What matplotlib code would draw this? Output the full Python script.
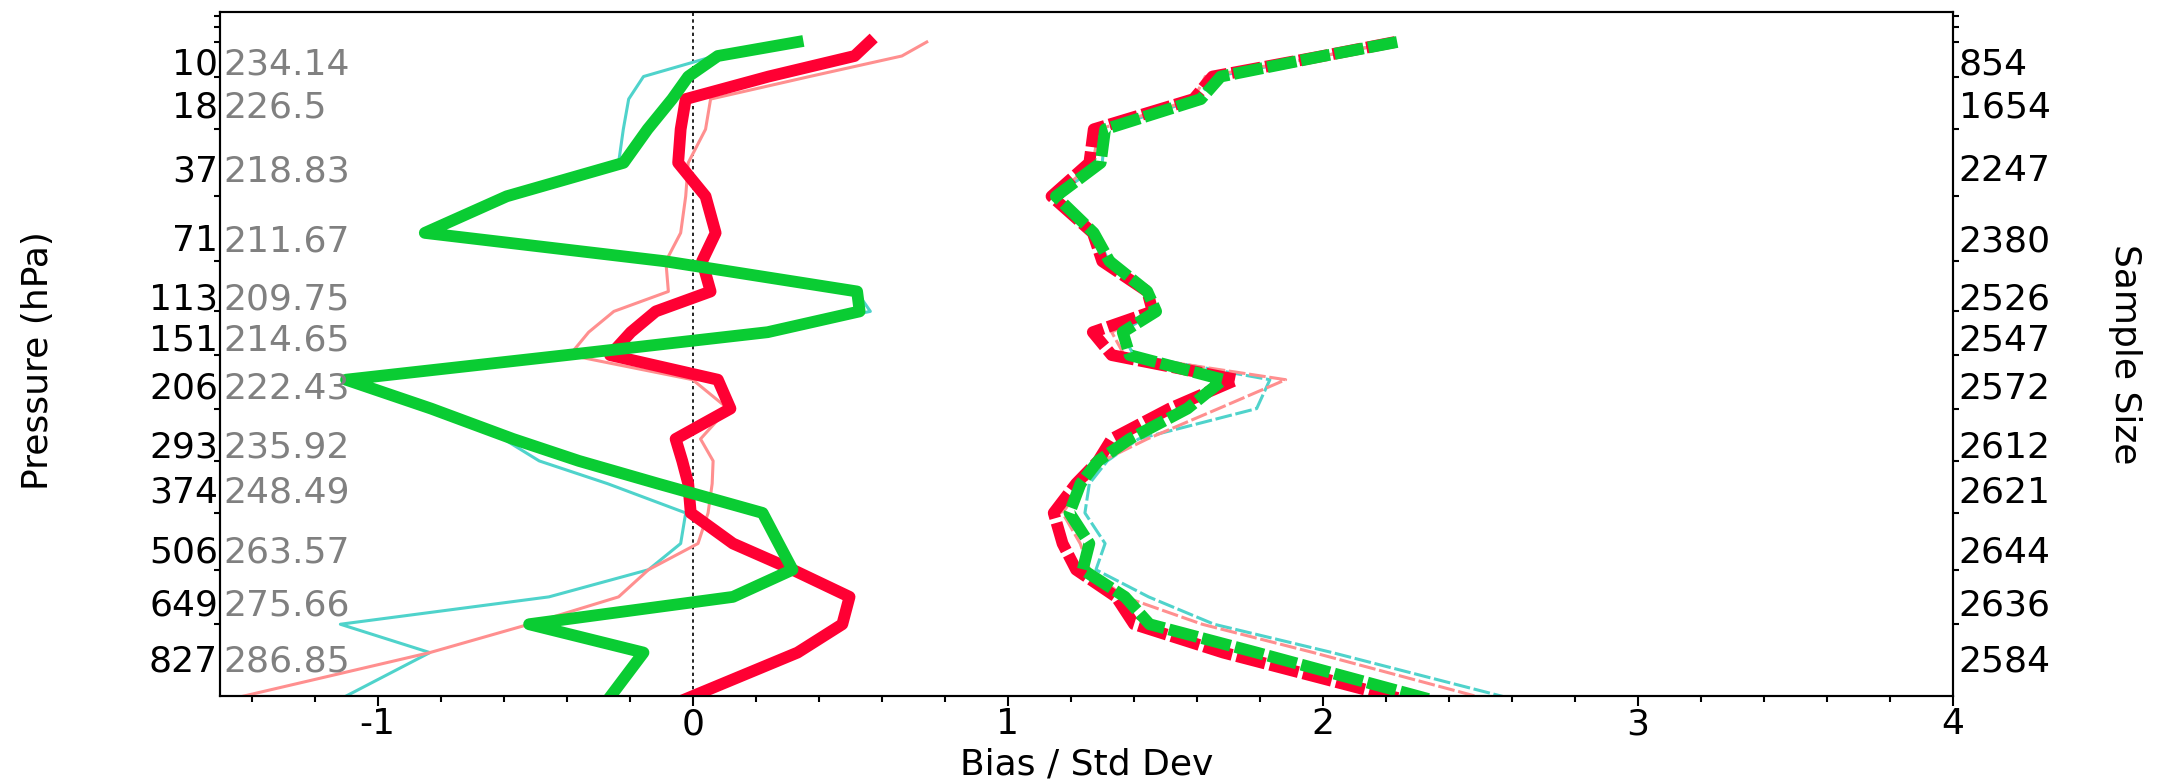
import numpy as np
import matplotlib
matplotlib.use("Agg")
import matplotlib.pyplot as plt
from matplotlib.ticker import FixedLocator, MultipleLocator, NullFormatter, FixedFormatter
from matplotlib.transforms import blended_transform_factory, ScaledTranslation

plt.rcParams['font.family'] = ['DejaVu Sans']

# ---- data -------------------------------------------------------------
levels = [10, 18, 37, 71, 113, 151, 206, 293, 374, 506, 649, 827]
temps = ["234.14", "226.5", "218.83", "211.67", "209.75", "214.65",
         "222.43", "235.92", "248.49", "263.57", "275.66", "286.85"]
samples = ["854", "1654", "2247", "2380", "2526", "2547",
           "2572", "2612", "2621", "2644", "2636", "2584"]
top_bounds = [5.2, 6.3, 8.07]

p_grid = [8.07, 10, 13.4, 18, 25.8, 37, 51.3, 71, 89.6, 113, 130.6, 151, 176,
          206, 245.7, 293, 331, 374, 435, 506, 573, 649, 732.6, 827, 1000]

bias_cyan = [0.33, 0.07, -0.156, -0.203, -0.22, -0.235, -0.59, -0.85, -0.088, 0.52,
             0.564, 0.238, -0.40, -1.09, -0.82, -0.60, -0.487, -0.27, -0.022, -0.038,
             -0.14, -0.456, -1.118, -0.834, -1.118]
bias_pink = [0.743, 0.664, 0.371, 0.057, 0.041, -0.014, -0.022, -0.038, -0.085, -0.077,
             -0.25, -0.33, -0.39, 0.00, 0.112, 0.025, 0.065, 0.062, 0.049, 0.017,
             -0.14, -0.235, -0.519, -0.834, -1.465]
bias_red = [0.561, 0.514, 0.241, -0.022, -0.038, -0.046, 0.041, 0.073, 0.030, 0.057,
            -0.117, -0.196, -0.262, 0.080, 0.120, -0.054, -0.033, -0.014, -0.006, 0.128,
            0.317, 0.498, 0.475, 0.333, -0.022]
bias_green = [0.333, 0.080, -0.014, -0.065, -0.143, -0.219, -0.590, -0.850, -0.088, 0.522,
              0.530, 0.238, -0.40, -1.10, -0.83, -0.57, -0.361, -0.11, 0.222, 0.273,
              0.317, 0.128, -0.519, -0.156, -0.267]

std_cyan = [2.23, 2.00, 1.66, 1.60, 1.31, 1.30, 1.15, 1.28, 1.32, 1.44,
            1.47, 1.36, 1.40, 1.832, 1.790, 1.415, 1.316, 1.259, 1.245, 1.309,
            1.28, 1.447, 1.655, 2.03, 2.603]
std_pink = [2.23, 2.00, 1.627, 1.59, 1.29, 1.27, 1.15, 1.27, 1.30, 1.44,
            1.46, 1.33, 1.37, 1.882, 1.669, 1.443, 1.30, 1.24, 1.174, 1.23,
            1.26, 1.37, 1.617, 1.97, 2.519]
std_red = [2.23, 2.00, 1.65, 1.59, 1.273, 1.259, 1.139, 1.27, 1.30, 1.443,
           1.46, 1.27, 1.33, 1.726, 1.514, 1.33, 1.287, 1.217, 1.146, 1.174,
           1.217, 1.344, 1.401, 1.684, 2.25]
std_green = [2.236, 2.002, 1.676, 1.613, 1.309, 1.295, 1.153, 1.273, 1.323, 1.443,
             1.471, 1.365, 1.387, 1.684, 1.570, 1.387, 1.287, 1.231, 1.196, 1.259,
             1.238, 1.372, 1.450, 1.79, 2.335]

x_major = [-1, 0, 1, 2, 3, 4]
x_major_labels = ["-1", "0", "1", "2", "3", "4"]

# ---- style ------------------------------------------------------------
C_CYAN = '#4fd3cb'
C_PINK = '#ff8f8f'
C_RED = '#ff0033'
C_GREEN = '#0acc33'
FS = 26
THIN = 2.2
THICK = 8.5

KAPPA = 0.286


def fwd(p):
    return np.power(np.clip(p, 1e-9, None), KAPPA)


def inv(v):
    return np.power(np.clip(v, 1e-9, None), 1.0 / KAPPA)


W, H = 2157, 781
fig = plt.figure(figsize=(W / 100, H / 100), dpi=100)
fig.patch.set_facecolor('white')
ax = fig.add_axes([220 / W, 1 - 696 / H, (1953 - 220) / W, (696 - 12) / H])
ax.set_yscale('function', functions=(fwd, inv))
ax.set_xlim(-1.5, 4)
ax.set_ylim(988, 4.85)

ax.axvline(0, color='black', lw=1.2, ls=(0, (2, 2)), zorder=1)

# bias (solid)
ax.plot(bias_cyan, p_grid, color=C_CYAN, lw=THIN, zorder=2)
ax.plot(bias_pink, p_grid, color=C_PINK, lw=THIN, zorder=3)
ax.plot(bias_red, p_grid, color=C_RED, lw=THICK, zorder=4)
ax.plot(bias_green, p_grid, color=C_GREEN, lw=THICK, zorder=5)

# std dev (dashed)
ax.plot(std_cyan, p_grid, color=C_CYAN, lw=THIN, dashes=(5.5, 1.2), zorder=2)
ax.plot(std_pink, p_grid, color=C_PINK, lw=THIN, dashes=(5.5, 1.2), zorder=3)
ax.plot(std_red, p_grid, color=C_RED, lw=THICK, dashes=(2.5, 0.4), zorder=4)
ax.plot(std_green, p_grid, color=C_GREEN, lw=THICK, dashes=(2.5, 0.4), zorder=5)

# ---- axes / ticks -----------------------------------------------------
bounds = list(top_bounds) + list(np.sqrt(np.array(levels[:-1]) * np.array(levels[1:])))

ax.xaxis.set_major_locator(FixedLocator(x_major))
ax.xaxis.set_major_formatter(FixedFormatter(x_major_labels))
ax.xaxis.set_minor_locator(MultipleLocator(0.2))
ax.tick_params(axis='x', which='major', direction='out', length=7, width=1.5,
               labelsize=FS, pad=1, top=False)
ax.tick_params(axis='x', which='minor', direction='out', length=4, width=1.5, top=False)

ax.yaxis.set_major_locator(FixedLocator(levels))
ax.yaxis.set_major_formatter(FixedFormatter([str(v) for v in levels]))
ax.yaxis.set_minor_locator(FixedLocator(bounds))
ax.yaxis.set_minor_formatter(NullFormatter())
ax.tick_params(axis='y', which='major', length=0, pad=1.5, labelsize=FS)
ax.tick_params(axis='y', which='minor', direction='out', length=4, width=1.5)

ax2 = ax.twinx()
ax2.set_yscale('function', functions=(fwd, inv))
ax2.set_ylim(988, 4.85)
ax2.yaxis.set_major_locator(FixedLocator(levels))
ax2.yaxis.set_major_formatter(FixedFormatter(samples))
ax2.yaxis.set_minor_locator(FixedLocator(bounds))
ax2.yaxis.set_minor_formatter(NullFormatter())
ax2.tick_params(axis='y', which='major', length=0, pad=4, labelsize=FS)
ax2.tick_params(axis='y', which='minor', direction='out', length=4, width=1.5)

for a in (ax, ax2):
    for s in a.spines.values():
        s.set_linewidth(1.5)

# shift level labels slightly below the levels, as in the reference
shift = ScaledTranslation(0, -5 / 100, fig.dpi_scale_trans)
for lab in ax.get_yticklabels() + ax2.get_yticklabels():
    lab.set_transform(lab.get_transform() + shift)

# gray temperature labels inside the plot
trans = blended_transform_factory(ax.transAxes, ax.transData) + shift
for p, t in zip(levels, temps):
    ax.text(0.002, p, t, transform=trans, color='#808080', fontsize=FS,
            ha='left', va='center_baseline', zorder=6)

ax.set_ylabel('Pressure (hPa)', fontsize=FS)
ax.yaxis.set_label_coords(-0.105, 0.49)
ax.yaxis.label.set_va('center')
ax.set_xlabel('Bias / Std Dev', fontsize=FS)
ax.xaxis.set_label_coords(0.5, -0.1)
ax.xaxis.label.set_va('center')
ax2.set_ylabel('Sample Size', fontsize=FS, rotation=270)
ax2.yaxis.set_label_coords(1.099, 0.5)
ax2.yaxis.label.set_va('center')

fig.savefig('out.png', dpi=100, facecolor='white')
